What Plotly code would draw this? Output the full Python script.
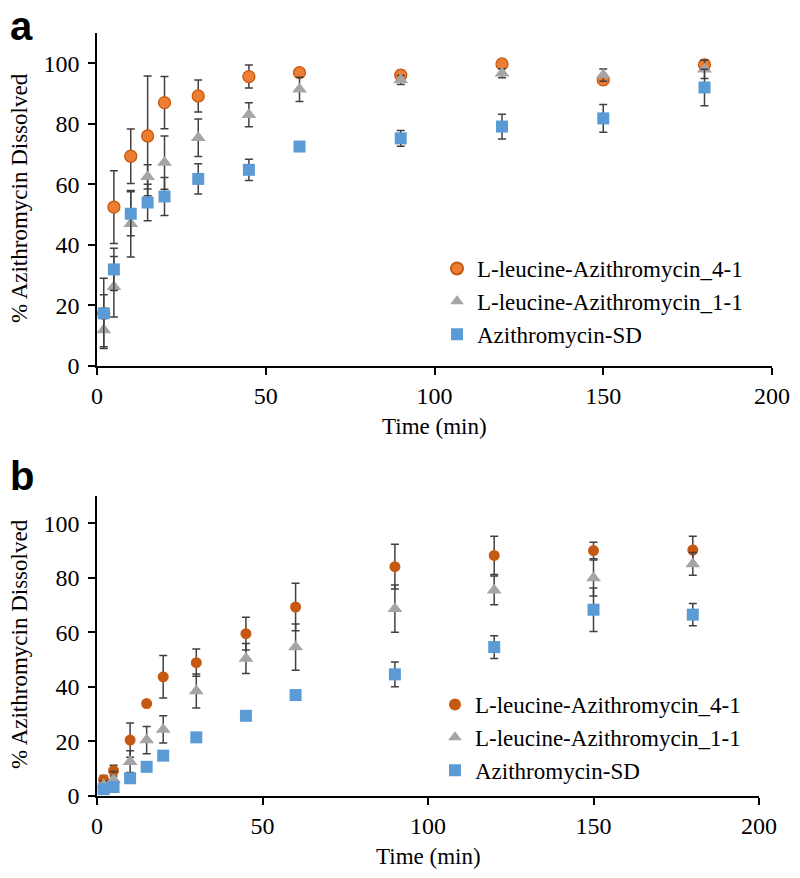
import plotly.graph_objects as go

# ---------------- data ----------------
time_min = [2, 5, 10, 15, 20, 30, 45, 60, 90, 120, 150, 180]

# Panel a
a_leu41 = [17.4, 52.5, 69.3, 76.0, 87.0, 89.2, 95.6, 96.9, 96.1, 99.8, 94.5, 99.5]
a_leu41_err = [6.1, 12.0, 9.0, 19.8, 8.6, 5.3, 3.8, 1.0, 1.5, 1.0, 1.5, 1.5]
a_leu11 = [11.9, 26.2, 47.0, 62.5, 67.2, 75.4, 83.0, 91.4, 94.5, 96.7, 96.1, 98.0]
a_leu11_err = [5.5, 10.0, 11.0, 4.0, 8.8, 6.2, 4.0, 4.0, 1.5, 1.5, 2.0, 3.0]
a_sd = [17.4, 31.9, 50.3, 54.0, 56.0, 61.8, 64.8, 72.5, 75.2, 79.1, 81.8, 92.0]
a_sd_err = [11.6, 7.0, 7.3, 6.0, 6.3, 5.0, 3.5, 1.0, 2.6, 4.1, 4.6, 6.0]

# Panel b
b_leu41 = [6.0, 9.3, 20.5, 33.9, 43.7, 48.9, 59.5, 69.3, 84.1, 88.2, 90.0, 90.2]
b_leu41_err = [1.5, 2.0, 6.3, 1.0, 7.8, 5.0, 6.0, 8.7, 8.2, 7.0, 3.0, 5.0]
b_leu11 = [4.0, 6.0, 12.6, 20.5, 24.4, 38.5, 50.4, 54.6, 68.7, 75.4, 79.9, 85.1]
b_leu11_err = [1.5, 3.0, 4.0, 5.0, 5.0, 6.2, 5.5, 8.5, 8.7, 5.3, 6.6, 4.2]
b_sd = [2.5, 3.3, 6.5, 10.7, 14.8, 21.5, 29.4, 37.0, 44.6, 54.6, 68.3, 66.5]
b_sd_err = [0.5, 0.5, 0.5, 0.5, 0.5, 0.8, 0.8, 1.5, 4.5, 4.2, 8.0, 4.1]

names = ["L-leucine-Azithromycin_4-1", "L-leucine-Azithromycin_1-1", "Azithromycin-SD"]
y_ticks = [0, 20, 40, 60, 80, 100]
x_ticks = [0, 50, 100, 150, 200]

# ---------------- styling ----------------
W, H = 800, 878
SERIF = "Liberation Serif"
ERR = dict(type="data", visible=True, color="#404040", thickness=1.5, width=4)
ORANGE_A = "#ED7D31"
ORANGE_B = "#C65911"
GRAY = "#A5A5A5"
BLUE = "#5B9BD5"


def err(vals):
    d = dict(ERR)
    d["array"] = vals
    return d


fig = go.Figure()

# Panel a traces
fig.add_trace(go.Scatter(x=time_min, y=a_leu41, error_y=err(a_leu41_err), mode="markers", name=names[0],
                         marker=dict(symbol="circle", size=12, color=ORANGE_A, line=dict(color="#C55A11", width=1.3)),
                         xaxis="x", yaxis="y", legend="legend"))
fig.add_trace(go.Scatter(x=time_min, y=a_leu11, error_y=err(a_leu11_err), mode="markers", name=names[1],
                         marker=dict(symbol="triangle-up", size=13, color=GRAY, line=dict(width=0)),
                         xaxis="x", yaxis="y", legend="legend"))
fig.add_trace(go.Scatter(x=time_min, y=a_sd, error_y=err(a_sd_err), mode="markers", name=names[2],
                         marker=dict(symbol="square", size=12, color=BLUE, line=dict(width=0)),
                         xaxis="x", yaxis="y", legend="legend"))

# Panel b traces
fig.add_trace(go.Scatter(x=time_min, y=b_leu41, error_y=err(b_leu41_err), mode="markers", name=names[0],
                         marker=dict(symbol="circle", size=11, color=ORANGE_B, line=dict(width=0)),
                         xaxis="x2", yaxis="y2", legend="legend2"))
fig.add_trace(go.Scatter(x=time_min, y=b_leu11, error_y=err(b_leu11_err), mode="markers", name=names[1],
                         marker=dict(symbol="triangle-up", size=13, color=GRAY, line=dict(width=0)),
                         xaxis="x2", yaxis="y2", legend="legend2"))
fig.add_trace(go.Scatter(x=time_min, y=b_sd, error_y=err(b_sd_err), mode="markers", name=names[2],
                         marker=dict(symbol="square", size=12, color=BLUE, line=dict(width=0)),
                         xaxis="x2", yaxis="y2", legend="legend2"))


def px_x(p):
    return p / W


def px_y(p):
    return 1 - p / H


axis_common = dict(showline=True, linecolor="black", linewidth=1.5, ticks="outside", ticklen=7,
                   tickwidth=1.5, tickcolor="black", showgrid=False, zeroline=False, automargin=False,
                   tickfont=dict(family=SERIF, size=24, color="black"))

fig.update_layout(
    width=W, height=H,
    margin=dict(l=0, r=0, t=0, b=0, autoexpand=False),
    font=dict(family=SERIF, size=23, color="black"),
    paper_bgcolor="white", plot_bgcolor="white",
    xaxis=dict(domain=[px_x(97), px_x(772)], range=[0, 200], tickvals=x_ticks, anchor="y", **axis_common),
    yaxis=dict(domain=[px_y(366), px_y(33)], range=[0, 110], tickvals=y_ticks, anchor="x",
               ticklabelstandoff=4, **axis_common),
    xaxis2=dict(domain=[px_x(97), px_x(759)], range=[0, 200], tickvals=x_ticks, anchor="y2", **axis_common),
    yaxis2=dict(domain=[px_y(796), px_y(496)], range=[0, 110], tickvals=y_ticks, anchor="x2",
                ticklabelstandoff=4, **axis_common),
    legend=dict(x=px_x(437), y=px_y(247), xanchor="left", yanchor="top", bgcolor="rgba(0,0,0,0)",
                font=dict(family=SERIF, size=23, color="black"), itemsizing="constant"),
    legend2=dict(x=px_x(435), y=px_y(683), xanchor="left", yanchor="top", bgcolor="rgba(0,0,0,0)",
                 font=dict(family=SERIF, size=23, color="black"), itemsizing="constant"),
    showlegend=True,
)

annos = [
    dict(text="<b>a</b>", x=px_x(8), y=px_y(2), xanchor="left", yanchor="top",
         font=dict(family="Liberation Sans", size=40, color="black")),
    dict(text="<b>b</b>", x=px_x(8), y=px_y(452), xanchor="left", yanchor="top",
         font=dict(family="Liberation Sans", size=40, color="black")),
    dict(text="Time (min)", x=px_x(435), y=px_y(426), xanchor="center", yanchor="middle",
         font=dict(family=SERIF, size=23, color="black")),
    dict(text="Time (min)", x=px_x(428), y=px_y(856), xanchor="center", yanchor="middle",
         font=dict(family=SERIF, size=23, color="black")),
    dict(text="% Azithromycin Dissolved", x=px_x(19), y=px_y(198), xanchor="center", yanchor="middle",
         textangle=-90, font=dict(family=SERIF, size=23, color="black")),
    dict(text="% Azithromycin Dissolved", x=px_x(19), y=px_y(644), xanchor="center", yanchor="middle",
         textangle=-90, font=dict(family=SERIF, size=23, color="black")),
]
for a in annos:
    a.update(xref="paper", yref="paper", showarrow=False)
fig.update_layout(annotations=annos)

fig.write_html("out.html", config={"displayModeBar": False},
               post_script="document.body.style.margin='0px';document.body.style.padding='0px';")
